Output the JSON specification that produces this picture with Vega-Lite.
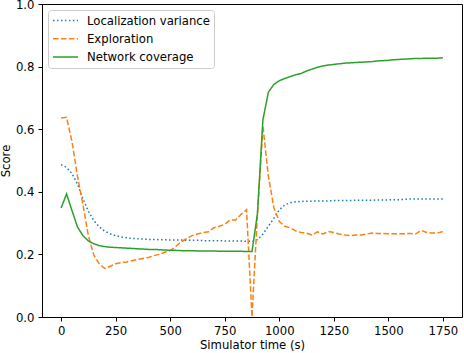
{
  "$schema": "https://vega.github.io/schema/vega-lite/v6.json",
  "width": 420,
  "height": 313,
  "autosize": "none",
  "padding": {"left": 42, "top": 4, "right": 2, "bottom": 36},
  "background": "white",
  "config": {
    "font": "DejaVu Sans",
    "view": {"stroke": "black", "strokeWidth": 1},
    "axis": {
      "labelFont": "DejaVu Sans",
      "labelFontSize": 11.67,
      "labelColor": "black",
      "titleFont": "DejaVu Sans",
      "titleFontSize": 11.67,
      "titleFontWeight": "normal",
      "titleColor": "black",
      "domainColor": "black",
      "tickColor": "black",
      "tickSize": 4,
      "labelPadding": 4,
      "grid": false
    },
    "legend": {
      "title": null, "orient": "none", "legendX": 6, "legendY": 6,
      "fillColor": "white", "strokeColor": "#cccccc", "cornerRadius": 3, "padding": 3.5,
      "symbolType": "M-2,0H2", "symbolSize": 156, "symbolStrokeWidth": 1.5, "symbolOffset": 7,
      "labelFont": "DejaVu Sans", "labelFontSize": 11.67, "labelColor": "black", "labelOffset": 14.5, "rowPadding": 4.2
    }
  },
  "data": {
    "values": [
      {"t": 0, "lv": 0.487, "ex": 0.636, "nc": 0.348},
      {"t": 25, "lv": 0.478, "ex": 0.638, "nc": 0.393},
      {"t": 50, "lv": 0.458, "ex": 0.56, "nc": 0.34},
      {"t": 75, "lv": 0.425, "ex": 0.45, "nc": 0.288},
      {"t": 100, "lv": 0.378, "ex": 0.36, "nc": 0.26},
      {"t": 125, "lv": 0.338, "ex": 0.26, "nc": 0.243},
      {"t": 150, "lv": 0.308, "ex": 0.198, "nc": 0.234},
      {"t": 175, "lv": 0.288, "ex": 0.17, "nc": 0.228},
      {"t": 200, "lv": 0.274, "ex": 0.155, "nc": 0.225},
      {"t": 225, "lv": 0.266, "ex": 0.162, "nc": 0.223},
      {"t": 250, "lv": 0.26, "ex": 0.17, "nc": 0.222},
      {"t": 275, "lv": 0.256, "ex": 0.174, "nc": 0.221},
      {"t": 300, "lv": 0.253, "ex": 0.176, "nc": 0.22},
      {"t": 325, "lv": 0.251, "ex": 0.18, "nc": 0.219},
      {"t": 350, "lv": 0.25, "ex": 0.184, "nc": 0.218},
      {"t": 375, "lv": 0.249, "ex": 0.187, "nc": 0.217},
      {"t": 400, "lv": 0.248, "ex": 0.19, "nc": 0.216},
      {"t": 425, "lv": 0.248, "ex": 0.196, "nc": 0.216},
      {"t": 450, "lv": 0.247, "ex": 0.2, "nc": 0.215},
      {"t": 475, "lv": 0.247, "ex": 0.207, "nc": 0.214},
      {"t": 500, "lv": 0.246, "ex": 0.212, "nc": 0.213},
      {"t": 525, "lv": 0.246, "ex": 0.225, "nc": 0.213},
      {"t": 550, "lv": 0.246, "ex": 0.24, "nc": 0.212},
      {"t": 575, "lv": 0.245, "ex": 0.25, "nc": 0.212},
      {"t": 600, "lv": 0.245, "ex": 0.26, "nc": 0.212},
      {"t": 625, "lv": 0.245, "ex": 0.265, "nc": 0.211},
      {"t": 650, "lv": 0.244, "ex": 0.27, "nc": 0.211},
      {"t": 675, "lv": 0.244, "ex": 0.272, "nc": 0.211},
      {"t": 700, "lv": 0.244, "ex": 0.285, "nc": 0.211},
      {"t": 725, "lv": 0.244, "ex": 0.29, "nc": 0.21},
      {"t": 750, "lv": 0.243, "ex": 0.296, "nc": 0.21},
      {"t": 775, "lv": 0.243, "ex": 0.31, "nc": 0.21},
      {"t": 800, "lv": 0.243, "ex": 0.31, "nc": 0.21},
      {"t": 825, "lv": 0.243, "ex": 0.328, "nc": 0.21},
      {"t": 850, "lv": 0.242, "ex": 0.343, "nc": 0.209},
      {"t": 875, "lv": 0.242, "ex": 0.0, "nc": 0.209},
      {"t": 900, "lv": 0.247, "ex": 0.33, "nc": 0.33},
      {"t": 925, "lv": 0.265, "ex": 0.61, "nc": 0.63},
      {"t": 950, "lv": 0.29, "ex": 0.45, "nc": 0.718},
      {"t": 975, "lv": 0.315, "ex": 0.35, "nc": 0.743},
      {"t": 1000, "lv": 0.342, "ex": 0.305, "nc": 0.755},
      {"t": 1025, "lv": 0.358, "ex": 0.29, "nc": 0.762},
      {"t": 1050, "lv": 0.365, "ex": 0.285, "nc": 0.768},
      {"t": 1075, "lv": 0.368, "ex": 0.275, "nc": 0.774},
      {"t": 1100, "lv": 0.369, "ex": 0.27, "nc": 0.778},
      {"t": 1125, "lv": 0.37, "ex": 0.268, "nc": 0.786},
      {"t": 1150, "lv": 0.37, "ex": 0.262, "nc": 0.792},
      {"t": 1175, "lv": 0.371, "ex": 0.272, "nc": 0.798},
      {"t": 1200, "lv": 0.371, "ex": 0.265, "nc": 0.802},
      {"t": 1225, "lv": 0.371, "ex": 0.273, "nc": 0.805},
      {"t": 1250, "lv": 0.372, "ex": 0.27, "nc": 0.807},
      {"t": 1275, "lv": 0.372, "ex": 0.265, "nc": 0.809},
      {"t": 1300, "lv": 0.372, "ex": 0.262, "nc": 0.811},
      {"t": 1325, "lv": 0.372, "ex": 0.26, "nc": 0.812},
      {"t": 1350, "lv": 0.373, "ex": 0.262, "nc": 0.813},
      {"t": 1375, "lv": 0.373, "ex": 0.262, "nc": 0.814},
      {"t": 1400, "lv": 0.373, "ex": 0.265, "nc": 0.815},
      {"t": 1425, "lv": 0.373, "ex": 0.268, "nc": 0.816},
      {"t": 1450, "lv": 0.374, "ex": 0.267, "nc": 0.818},
      {"t": 1475, "lv": 0.374, "ex": 0.267, "nc": 0.819},
      {"t": 1500, "lv": 0.374, "ex": 0.266, "nc": 0.82},
      {"t": 1525, "lv": 0.375, "ex": 0.266, "nc": 0.822},
      {"t": 1550, "lv": 0.375, "ex": 0.266, "nc": 0.823},
      {"t": 1575, "lv": 0.376, "ex": 0.266, "nc": 0.824},
      {"t": 1600, "lv": 0.377, "ex": 0.267, "nc": 0.825},
      {"t": 1625, "lv": 0.377, "ex": 0.265, "nc": 0.826},
      {"t": 1650, "lv": 0.377, "ex": 0.277, "nc": 0.826},
      {"t": 1675, "lv": 0.377, "ex": 0.27, "nc": 0.827},
      {"t": 1700, "lv": 0.377, "ex": 0.268, "nc": 0.827},
      {"t": 1725, "lv": 0.377, "ex": 0.268, "nc": 0.827},
      {"t": 1750, "lv": 0.377, "ex": 0.273, "nc": 0.828}
    ]
  },
  "transform": [
    {"fold": ["lv", "ex", "nc"], "as": ["key", "score"]},
    {"lookup": "key", "from": {"data": {"values": [
      {"key": "lv", "series": "Localization variance"},
      {"key": "ex", "series": "Exploration"},
      {"key": "nc", "series": "Network coverage"}
    ]}, "key": "key", "fields": ["series"]}}
  ],
  "mark": {"type": "line", "strokeWidth": 1.5, "clip": true},
  "encoding": {
    "x": {
      "field": "t", "type": "quantitative",
      "scale": {"domain": [-87.5, 1837.5], "nice": false, "zero": false},
      "axis": {"values": [0, 250, 500, 750, 1000, 1250, 1500, 1750], "title": "Simulator time (s)", "titlePadding": 3, "format": "d"}
    },
    "y": {
      "field": "score", "type": "quantitative",
      "scale": {"domain": [0, 1], "nice": false},
      "axis": {"values": [0, 0.2, 0.4, 0.6, 0.8, 1.0], "format": ".1f", "title": "Score", "titlePadding": 4}
    },
    "color": {
      "field": "series", "type": "nominal",
      "scale": {"domain": ["Localization variance", "Exploration", "Network coverage"], "range": ["#1f77b4", "#ff7f0e", "#2ca02c"]}
    },
    "strokeDash": {
      "field": "series", "type": "nominal",
      "scale": {"domain": ["Localization variance", "Exploration", "Network coverage"], "range": [[1.5, 2.475], [5.55, 2.4], [1, 0]]}
    }
  }
}
